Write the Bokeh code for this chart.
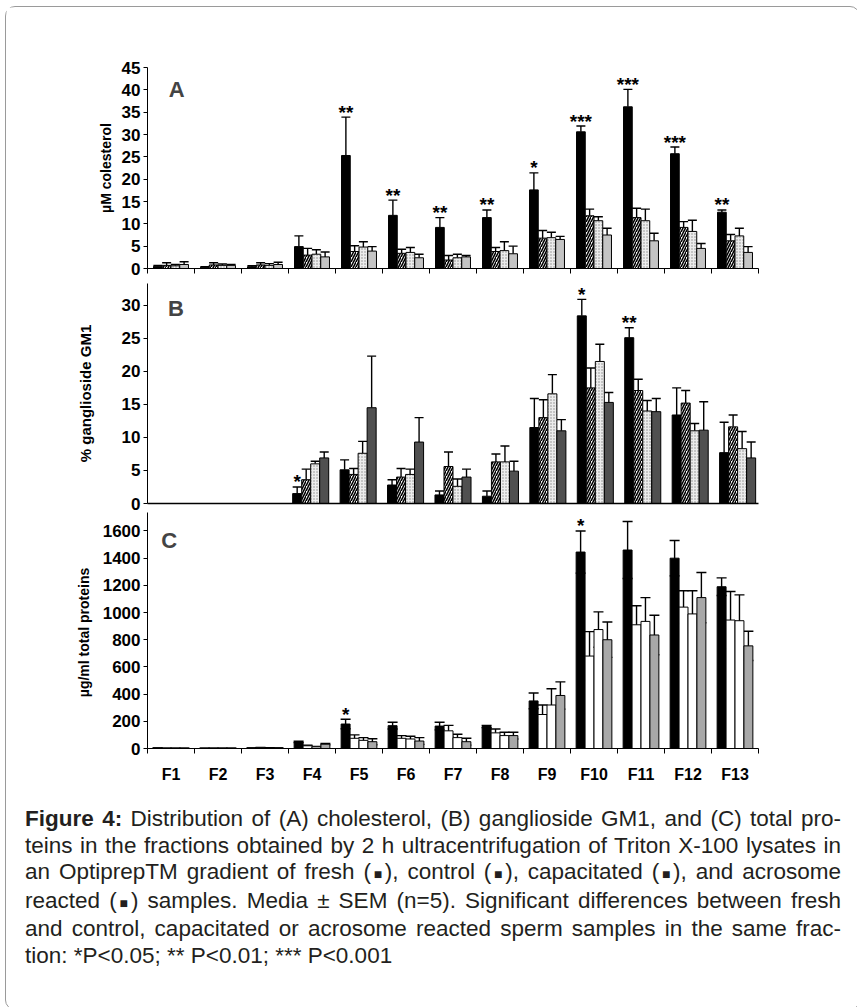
from bokeh.plotting import figure
from bokeh.models import ColumnDataSource, FixedTicker, Range1d, Whisker, TeeHead, Div, Label
from bokeh.layouts import column
from bokeh.embed import file_html
from bokeh.resources import INLINE
from bokeh.core.properties import value

NaN = float("nan")
fractions = ["F1", "F2", "F3", "F4", "F5", "F6", "F7", "F8", "F9", "F10", "F11", "F12", "F13"]

# Panel A: µM cholesterol (mean, SEM) - fresh, control, capacitated, acrosome reacted
a_fresh = [0.5, 0.3, 0.4, 4.9, 25.3, 11.9, 9.2, 11.4, 17.6, 30.6, 36.2, 25.7, 12.6]
a_fresh_err = [0.2, 0.1, 0.2, 2.4, 8.6, 3.4, 2.2, 1.7, 3.8, 1.3, 3.9, 1.5, 0.5]
a_control = [0.7, 0.8, 0.8, 3.0, 3.8, 3.4, 1.9, 3.8, 6.8, 11.8, 11.4, 9.2, 6.2]
a_control_err = [0.6, 0.5, 0.5, 1.5, 1.3, 0.9, 1.0, 0.9, 1.7, 1.5, 2.1, 1.3, 1.4]
a_capac = [0.6, 0.7, 0.7, 3.2, 4.8, 3.6, 2.4, 4.0, 6.9, 10.7, 10.7, 8.3, 7.3]
a_capac_err = [0.3, 0.3, 0.4, 1.0, 1.2, 1.1, 0.8, 2.0, 1.2, 0.9, 2.6, 2.5, 1.7]
a_acro = [0.9, 0.7, 0.9, 2.6, 3.9, 2.4, 2.6, 3.3, 6.5, 7.5, 6.2, 4.5, 3.6]
a_acro_err = [0.6, 0.2, 0.5, 1.1, 1.0, 0.8, 0.3, 1.7, 0.7, 1.5, 1.7, 1.1, 1.3]
a_stars = ["", "", "", "", "**", "**", "**", "**", "*", "***", "***", "***", "**"]

# Panel B: % ganglioside GM1
b_fresh = [NaN, NaN, NaN, 1.5, 5.1, 2.8, 1.3, 1.1, 11.5, 28.4, 25.1, 13.4, 7.7]
b_fresh_err = [NaN, NaN, NaN, 1.0, 1.5, 0.8, 0.6, 0.8, 4.4, 2.5, 1.5, 4.1, 4.6]
b_control = [NaN, NaN, NaN, 3.6, 4.4, 4.0, 5.6, 6.3, 13.0, 17.5, 17.1, 15.2, 11.6]
b_control_err = [NaN, NaN, NaN, 1.6, 0.9, 1.3, 2.2, 1.2, 2.7, 3.0, 1.7, 1.9, 1.8]
b_capac = [NaN, NaN, NaN, 6.0, 7.6, 4.4, 2.6, 6.3, 16.6, 21.5, 14.0, 11.0, 8.3]
b_capac_err = [NaN, NaN, NaN, 0.4, 1.8, 0.8, 1.1, 2.4, 2.9, 2.6, 1.6, 1.1, 2.6]
b_acro = [NaN, NaN, NaN, 6.9, 14.5, 9.3, 4.0, 4.9, 11.0, 15.3, 13.9, 11.1, 6.9]
b_acro_err = [NaN, NaN, NaN, 0.9, 7.8, 3.7, 1.2, 1.5, 1.7, 1.5, 2.0, 4.3, 2.4]
b_stars = ["", "", "", "*", "", "", "", "", "", "*", "**", "", ""]

# Panel C: µg/ml total proteins
c_fresh = [3, 2, 3, 48, 180, 168, 165, 162, 350, 1445, 1460, 1400, 1190]
c_fresh_err = [1, 1, 1, 5, 35, 25, 28, 8, 58, 155, 210, 130, 65]
c_control = [2, 2, 6, 20, 75, 75, 130, 115, 250, 680, 910, 1040, 945]
c_control_err = [1, 1, 2, 4, 25, 20, 40, 28, 70, 180, 140, 120, 210]
c_capac = [2, 2, 4, 12, 60, 70, 80, 95, 320, 875, 935, 990, 940]
c_capac_err = [1, 1, 1, 3, 20, 20, 25, 25, 120, 130, 175, 170, 190]
c_acro = [2, 2, 3, 32, 50, 55, 50, 95, 390, 800, 835, 1110, 755]
c_acro_err = [1, 1, 1, 5, 22, 25, 25, 25, 100, 130, 145, 185, 108]
c_stars = ["", "", "", "", "*", "", "", "", "", "*", "", "", ""]

FONT = "Liberation Sans"
centers = [i + 1 for i in range(len(fractions))]


def base_fig(height, xr, yr, left, right, top, bottom):
    p = figure(width=843, height=height, x_range=xr, y_range=yr,
               toolbar_location=None, output_backend="svg",
               min_border_left=left, min_border_right=right,
               min_border_top=top, min_border_bottom=bottom)
    p.xgrid.visible = False
    p.ygrid.visible = False
    p.outline_line_color = None
    p.background_fill_color = "white"
    p.border_fill_color = "white"
    for ax in (p.xaxis[0], p.yaxis[0]):
        ax.axis_line_color = "black"
        ax.axis_line_width = 1
        ax.major_tick_line_color = "black"
        ax.minor_tick_line_color = "black"
        ax.major_label_text_font = FONT
        ax.major_label_text_font_style = "bold"
        ax.major_label_text_color = "black"
        ax.axis_label_text_font = FONT
        ax.axis_label_text_font_style = "bold"
        ax.axis_label_text_color = "black"
        ax.minor_tick_out = 0
        ax.minor_tick_in = 0
        ax.major_tick_in = 0
    return p


def add_series(p, means, errs, styles, width, both=False, cap=9):
    n = len(means)
    for k, (m, e, st) in enumerate(zip(means, errs, styles)):
        off = (k - (n - 1) / 2.0) * width
        xs = [c + off for c in centers]
        hi = [a + b for a, b in zip(m, e)]
        lo = [a - b for a, b in zip(m, e)] if both else list(m)
        src = ColumnDataSource(dict(x=xs, top=m, hi=hi, lo=lo))
        p.vbar(x="x", top="top", bottom=0, width=width, source=src,
               line_color="black", line_width=1, **st)
        w = Whisker(source=src, base="x", upper="hi", lower="lo",
                    line_color="black", line_width=1.4,
                    upper_head=TeeHead(size=cap, line_color="black", line_width=1.4),
                    lower_head=TeeHead(size=cap, line_color="black", line_width=1.4) if both else None)
        p.add_layout(w)


def add_stars(p, means, errs, stars, width, size="19px"):
    off = -1.5 * width
    xs, ys, ts = [], [], []
    for c, m, e, s in zip(centers, means, errs, stars):
        if s:
            xs.append(c + off)
            ys.append(m + e)
            ts.append(s)
    src = ColumnDataSource(dict(x=xs, y=ys, t=ts))
    p.text(x="x", y="y", text="t", source=src, text_font=value(FONT),
           text_font_style="bold", text_font_size=size, text_color="black",
           text_align="center", text_baseline="alphabetic", y_offset=-5)


black = dict(fill_color="black")
hatched = dict(fill_color="white", hatch_pattern="/", hatch_color="black",
               hatch_weight=1.6, hatch_scale=5)
dotted = dict(fill_color="#ececec", hatch_pattern=".", hatch_color="#8a8a8a",
              hatch_weight=1, hatch_scale=3)
lightgray = dict(fill_color="#c4c4c4")
darkgray = dict(fill_color="#505050")
white = dict(fill_color="white")
midgray = dict(fill_color="#a8a8a8")

bound_ticks = [k + 0.5 for k in range(len(fractions) + 1)]
no_labels = {t: "" for t in bound_ticks}

# ---------------- Panel A ----------------
wA = 0.186
pA = base_fig(274, Range1d(0.5, 13.5), Range1d(0, 45), 140, 91, 60, 13)
add_series(pA, [a_fresh, a_control, a_capac, a_acro],
           [a_fresh_err, a_control_err, a_capac_err, a_acro_err],
           [black, hatched, dotted, lightgray], wA)
add_stars(pA, a_fresh, a_fresh_err, a_stars, wA)
ya = pA.yaxis[0]
ya.ticker = FixedTicker(ticks=list(range(0, 46, 5)))
ya.major_tick_out = 4
ya.major_label_standoff = 3
ya.major_label_text_font_size = "17px"
ya.axis_label = "µM colesterol"
ya.axis_label_text_font_size = "14px"
ya.axis_label_standoff = 5
xa = pA.xaxis[0]
xa.ticker = FixedTicker(ticks=bound_ticks)
xa.major_tick_out = 5
xa.major_label_overrides = no_labels
xa.major_label_text_font_size = "10px"
xa.major_label_standoff = 0
pA.add_layout(Label(x=1.12, y=40, text="A", text_font=FONT, text_font_style="bold",
                    text_font_size="22px", text_align="center", text_baseline="middle"))

# ---------------- Panel B ----------------
wB = 0.19
pB = base_fig(231, Range1d(0.56, 13.44), Range1d(0, 33.3), 140, 76, 2, 9)
add_series(pB, [b_fresh, b_control, b_capac, b_acro],
           [b_fresh_err, b_control_err, b_capac_err, b_acro_err],
           [black, hatched, dotted, darkgray], wB)
add_stars(pB, b_fresh, b_fresh_err, b_stars, wB)
yb = pB.yaxis[0]
yb.ticker = FixedTicker(ticks=list(range(0, 31, 5)))
yb.major_tick_out = 4
yb.major_label_standoff = 3
yb.major_label_text_font_size = "17px"
yb.axis_label = "% ganglioside GM1"
yb.axis_label_text_font_size = "15px"
yb.axis_label_standoff = 25
xb = pB.xaxis[0]
xb.ticker = FixedTicker(ticks=[])
xb.major_tick_out = 0
xb.major_label_text_font_size = "10px"
xb.major_label_standoff = 0
xb.axis_line_width = 1.5
pB.add_layout(Label(x=1.16, y=29.5, text="B", text_font=FONT, text_font_style="bold",
                    text_font_size="22px", text_align="center", text_baseline="middle"))

# ---------------- Panel C ----------------
wC = 0.19
pC = base_fig(273, Range1d(0.5, 13.5), Range1d(0, 1736), 141, 50, 0, 30)
add_series(pC, [c_fresh, c_control, c_capac, c_acro],
           [c_fresh_err, c_control_err, c_capac_err, c_acro_err],
           [black, white, white, midgray], wC, both=True, cap=10)
add_stars(pC, c_fresh, c_fresh_err, c_stars, wC)
yc = pC.yaxis[0]
yc.ticker = FixedTicker(ticks=list(range(0, 1601, 200)))
yc.major_tick_out = 4
yc.major_label_standoff = 3
yc.major_label_text_font_size = "17px"
yc.axis_label = "µg/ml  total proteins"
yc.axis_label_text_font_size = "14px"
yc.axis_label_standoff = 8
xc = pC.xaxis[0]
xc.ticker = FixedTicker(ticks=centers, minor_ticks=bound_ticks)
xc.major_tick_out = 0
xc.minor_tick_out = 5
xc.major_label_overrides = {c: f for c, f in zip(centers, fractions)}
xc.major_label_text_font_size = "16px"
xc.major_label_standoff = 12
pC.add_layout(Label(x=0.96, y=1529, text="C", text_font=FONT, text_font_style="bold",
                    text_font_size="22px", text_align="center", text_baseline="middle"))

# ---------------- Caption ----------------
SQ = '<span style="font-size:14px">&#9632;</span>'
cap_lines = [
    "<b>Figure 4:</b> Distribution of (A) cholesterol, (B) ganglioside GM1, and (C) total pro-",
    "teins in the fractions obtained by 2 h ultracentrifugation of Triton X-100 lysates in",
    f"an OptiprepTM gradient of fresh ({SQ}), control ({SQ}), capacitated ({SQ}), and acrosome",
    f"reacted ({SQ}) samples. Media &plusmn; SEM (n=5). Significant differences between fresh",
    "and control, capacitated or acrosome reacted sperm samples in the same frac-",
    "tion: *P&lt;0.05; ** P&lt;0.01; *** P&lt;0.001",
]
html = ['<div style="margin-left:14px;width:816px;padding-top:16px;'
        "font-family:'Liberation Sans',Arial,sans-serif;font-size:22.5px;"
        'line-height:26.6px;color:#231f20;">']
for i, ln in enumerate(cap_lines):
    last = i == len(cap_lines) - 1
    al = "left" if last else "justify"
    html.append(f'<div style="text-align:{al};text-align-last:{al};">{ln}</div>')
html.append("</div>")
caption = Div(text="".join(html), width=843, height=214)

layout = column(pA, pB, pC, caption, spacing=0,
                styles={"border": "1px solid #9a9a9a", "border-radius": "10px",
                        "margin-left": "5px", "margin-top": "6px"})

open("out.html", "w").write(file_html(layout, INLINE))
